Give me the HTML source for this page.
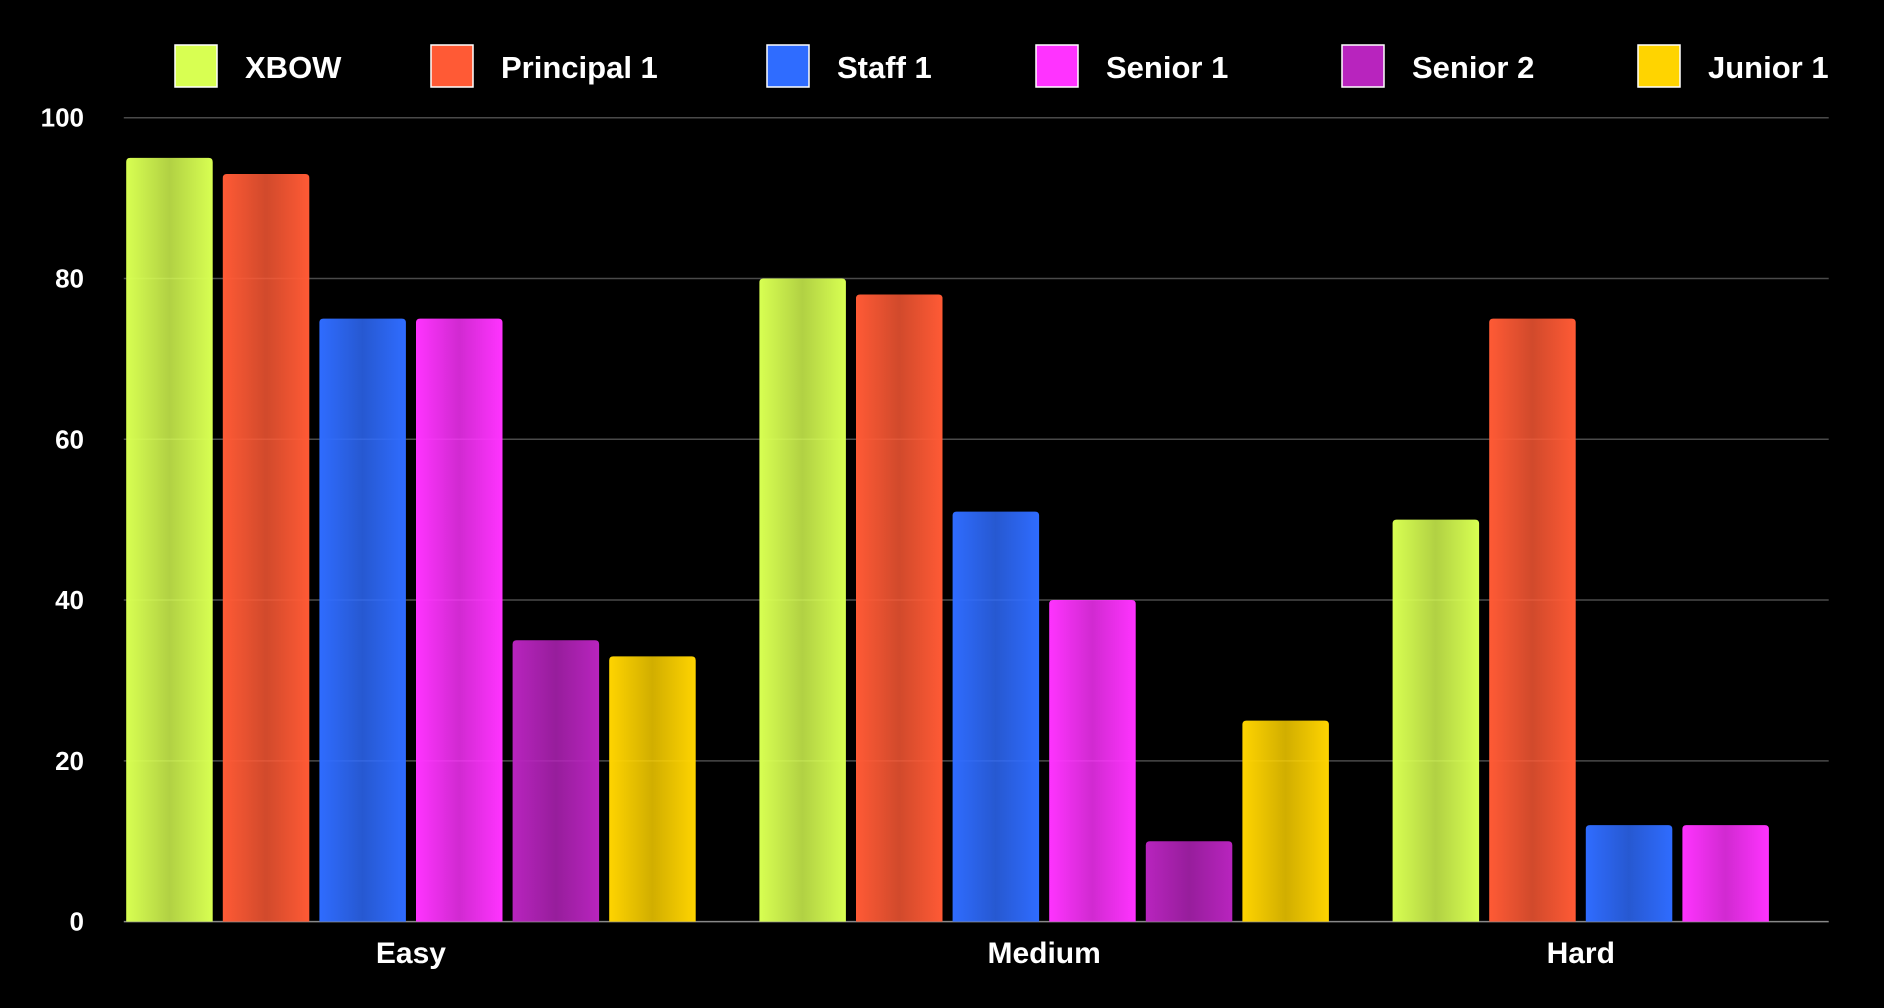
<!DOCTYPE html>
<html><head><meta charset="utf-8"><style>
html,body{margin:0;padding:0;background:#000;width:1884px;height:1008px;overflow:hidden}
svg text{font-family:"Liberation Sans",sans-serif;font-weight:bold;fill:#fff}
</style></head><body>
<svg id="chart" width="1884" height="1008" xmlns="http://www.w3.org/2000/svg">
<defs id="defs"></defs>
<g id="grid"></g>
<g id="yticks"></g>
<g id="bars"></g>
<g id="xlabels"></g>
<g id="legend"></g>
</svg>
<script>
const categories = ["Easy", "Medium", "Hard"];
const seriesNames = ["XBOW", "Principal 1", "Staff 1", "Senior 1", "Senior 2", "Junior 1"];
const seriesColors = ["#d8ff52", "#ff5a35", "#2f6cff", "#ff33ff", "#b824be", "#ffd400"];
const easyValues = [95, 93, 75, 75, 35, 33];
const mediumValues = [80, 78, 51, 40, 10, 25];
const hardValues = [50, 75, 12, 12];
const groupValues = [easyValues, mediumValues, hardValues];
const yTicks = [0, 20, 40, 60, 80, 100];

const NS = "http://www.w3.org/2000/svg";
const yTop = 117.7, yBot = 921.6, xL = 123.8, xR = 1828.7;
const yScale = v => yBot - (v / 100) * (yBot - yTop);
const gx0 = 126.2, gStep = 633.2, bStep = 96.6, bW = 86.5;
const xScale = (g, i) => gx0 + g * gStep + i * bStep;
function mk(tag, attrs, parent) { const e = document.createElementNS(NS, tag); for (const k in attrs) e.setAttribute(k, attrs[k]); parent.appendChild(e); return e; }

const defs = document.getElementById('defs');
seriesColors.forEach((c, i) => {
  const lg = mk('linearGradient', {id: 'grad' + i, x1: 0, x2: 1, y1: 0, y2: 0}, defs);
  mk('stop', {offset: '0', 'stop-color': c}, lg);
  mk('stop', {offset: '0.5', 'stop-color': c, 'stop-opacity': '0.82'}, lg);
  mk('stop', {offset: '1', 'stop-color': c}, lg);
});

const grid = document.getElementById('grid');
const yt = document.getElementById('yticks');
yTicks.forEach(t => {
  const l = mk('line', {x1: xL, x2: xR, y1: yScale(t), y2: yScale(t), stroke: t === 0 ? '#888' : '#4a4a4a', 'stroke-width': 1.5}, grid);
  
  
  const tx = mk('text', {x: 84, y: yScale(t) + 9, 'text-anchor': 'end', 'font-size': 26}, yt);
  tx.textContent = t;
  
  
});

const bars = document.getElementById('bars');
const xl = document.getElementById('xlabels');
groupValues.forEach((vals, g) => {
  vals.forEach((v, i) => {
    const x = xScale(g, i), y = yScale(v), h = yBot - y, r = 4;
    const p = mk('path', {d: `M${x},${yBot} L${x},${y + r} Q${x},${y} ${x + r},${y} L${x + bW - r},${y} Q${x + bW},${y} ${x + bW},${y + r} L${x + bW},${yBot} Z`, fill: `url(#grad${i})`}, bars);
    
    
  });
  const cx = (xScale(g, 0) + xScale(g, vals.length - 1) + bW) / 2;
  const t = mk('text', {x: cx, y: 963, 'text-anchor': 'middle', 'font-size': 30}, xl);
  t.textContent = categories[g];
  
  
});

const legend = document.getElementById('legend');
const legX = [175, 431, 767, 1036, 1342, 1638];
seriesNames.forEach((n, i) => {
  const g = mk('g', {}, legend);
  
  
  mk('rect', {x: legX[i], y: 45, width: 42, height: 42, fill: seriesColors[i], stroke: '#fff', 'stroke-width': 1.5}, g);
  const t = mk('text', {x: legX[i] + 70, y: 78, 'font-size': 31}, g);
  t.textContent = n;
});
</script>
</body></html>
